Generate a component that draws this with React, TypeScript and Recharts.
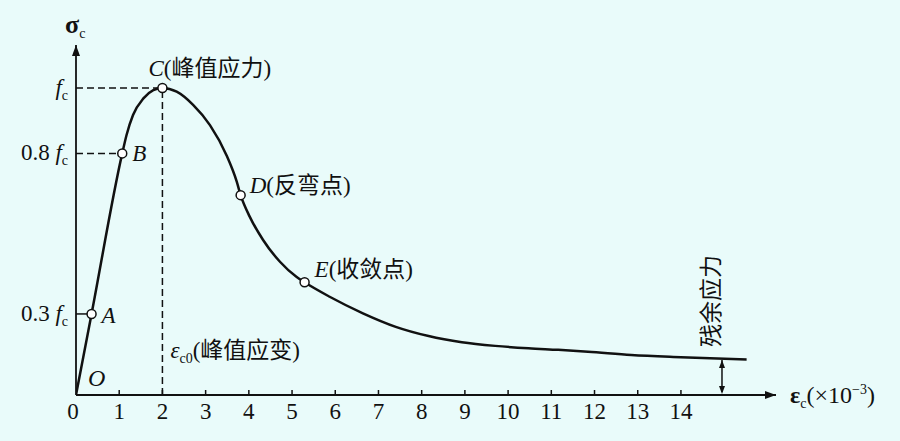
import { LineChart, Line, XAxis, YAxis, ReferenceLine, ReferenceDot } from "recharts";

// strain (×10^-3) and normalised stress σ/fc
const strain = [0, 0.36, 1.07, 1.17, 1.32, 1.56, 1.79, 2.0, 2.33, 2.71, 3.1, 3.48, 3.72, 3.81, 4.02, 4.33, 4.72, 5.1, 5.29, 5.87, 6.64, 7.4, 8.16, 8.93, 9.7, 10.47, 11.16, 11.85, 12.85, 14.0, 15.52];
const stress = [0, 0.264, 0.787, 0.847, 0.912, 0.966, 0.993, 1.0, 0.988, 0.945, 0.879, 0.782, 0.695, 0.651, 0.581, 0.505, 0.434, 0.385, 0.367, 0.32, 0.266, 0.222, 0.192, 0.172, 0.16, 0.152, 0.147, 0.141, 0.13, 0.123, 0.116];

const pointNames = ["A", "B", "C", "D", "E"];
const pointStrain = [0.36, 1.07, 2.0, 3.81, 5.29];
const pointStress = [0.264, 0.787, 1.0, 0.651, 0.367];
const pointNotes = ["", "", "(峰值应力)", "(反弯点)", "(收敛点)"];

const xTicks = [0, 1, 2, 3, 4, 5, 6, 7, 8, 9, 10, 11, 12, 13, 14];
const yTicks = [0.264, 0.787, 1];
const yTickLabels = ["0.3", "0.8", ""];

const peakStrain = 2;
const residualStrain = 14.95;
const residualStress = 0.114;
const xMax = 16.2;
const yMax = 1.14;

const curve = strain.map((x, i) => ({ x, y: stress[i] }));

const INK = "#111";
const BG = "#e9fbfa";
const FONT = '"Liberation Serif", "Times New Roman", "Noto Sans CJK SC", serif';
const FS = 23;
const SUB = 14;

// label offsets in px from each point
const noteOffset: Record<string, [number, number]> = {
  A: [10, 9],
  B: [10, 8],
  C: [-14, -12],
  D: [9, -2],
  E: [10, -5],
};

const XTick = (p: any) => {
  const { x, y, payload } = p;
  return (
    <g>
      {payload.value !== 0 && <line x1={x} y1={y} x2={x} y2={y - 5} stroke={INK} strokeWidth={1.5} />}
      <text x={payload.value === 0 ? x - 3 : x} y={y + 24} textAnchor="middle" fontFamily={FONT} fontSize={FS} fill={INK}>
        {payload.value}
      </text>
    </g>
  );
};

const YTick = (p: any) => {
  const { x, y, payload } = p;
  const k = yTickLabels[yTicks.indexOf(payload.value)];
  return (
    <text x={x - 8} y={y + 7} textAnchor="end" fontFamily={FONT} fontSize={FS} fill={INK}>
      {k ? <tspan>{k} </tspan> : null}
      <tspan fontStyle="italic">f</tspan>
      <tspan fontSize={SUB} dy={5}>c</tspan>
    </text>
  );
};

const pointShape = (name: string, note: string) => (p: any) => {
  const [dx, dy] = noteOffset[name];
  return (
    <g>
      <circle cx={p.cx} cy={p.cy} r={4.5} fill="#fff" stroke={INK} strokeWidth={1.5} />
      <text x={p.cx + dx} y={p.cy + dy} fontFamily={FONT} fontSize={FS} fill={INK}>
        <tspan fontStyle="italic">{name}</tspan>
        {note}
      </text>
    </g>
  );
};

const arrowUp = (p: any) => <polygon points={`${p.cx},${p.cy} ${p.cx - 4},${p.cy + 11} ${p.cx + 4},${p.cy + 11}`} fill={INK} />;
const arrowRight = (p: any) => <polygon points={`${p.cx},${p.cy} ${p.cx - 11},${p.cy - 4} ${p.cx - 11},${p.cy + 4}`} fill={INK} />;
const smallUp = (p: any) => <polygon points={`${p.cx},${p.cy} ${p.cx - 3},${p.cy + 8} ${p.cx + 3},${p.cy + 8}`} fill={INK} />;
const smallDown = (p: any) => <polygon points={`${p.cx},${p.cy} ${p.cx - 3},${p.cy - 8} ${p.cx + 3},${p.cy - 8}`} fill={INK} />;

const sigmaTitle = (p: any) => (
  <text x={p.cx - 11} y={p.cy - 12} fontFamily={FONT} fontSize={26} fontWeight="bold" fill={INK}>
    σ<tspan fontSize={SUB} fontWeight="normal" dy={5}>c</tspan>
  </text>
);

const epsTitle = (p: any) => (
  <text x={p.cx + 14} y={p.cy + 8} fontFamily={FONT} fontSize={24} fill={INK}>
    <tspan fontWeight="bold">ε</tspan>
    <tspan fontSize={SUB} dy={5}>c</tspan>
    <tspan dy={-5}>(×10</tspan>
    <tspan fontSize={SUB} dy={-9}>−3</tspan>
    <tspan dy={9}>)</tspan>
  </text>
);

const peakStrainNote = (p: any) => (
  <text x={p.cx + 8} y={p.cy} fontFamily={FONT} fontSize={FS} fill={INK}>
    <tspan fontStyle="italic">ε</tspan>
    <tspan fontSize={SUB} dy={5}>c0</tspan>
    <tspan dy={-5}>(峰值应变)</tspan>
  </text>
);

const originNote = (p: any) => (
  <text x={p.cx + 12} y={p.cy - 9} fontFamily={FONT} fontSize={24} fontStyle="italic" fill={INK}>
    O
  </text>
);

const residualNote = (p: any) => (
  <text
    x={p.cx - 10}
    y={p.cy}
    textAnchor="middle"
    dominantBaseline="central"
    transform={`rotate(-90 ${p.cx - 10} ${p.cy})`}
    fontFamily={FONT}
    fontSize={FS}
    fill={INK}
  >
    残余应力
  </text>
);

export default function App() {
  return (
    <div style={{ position: "absolute", left: 0, top: 0, width: 900, height: 441, background: BG }}>
      <LineChart width={900} height={441} data={curve} margin={{ top: 45, right: 124, bottom: 45, left: 75 }}>
        <XAxis
          type="number"
          dataKey="x"
          domain={[0, xMax]}
          ticks={xTicks}
          interval={0}
          height={1}
          tickSize={0}
          tickMargin={0}
          tickLine={false}
          tick={XTick}
          axisLine={{ stroke: INK, strokeWidth: 1.8 }}
          allowDataOverflow
        />
        <YAxis
          type="number"
          dataKey="y"
          domain={[0, yMax]}
          ticks={yTicks}
          interval={0}
          width={1}
          tickSize={0}
          tickMargin={0}
          tickLine={false}
          tick={YTick}
          axisLine={{ stroke: INK, strokeWidth: 1.8 }}
          allowDataOverflow
        />

        <ReferenceLine segment={[{ x: 0, y: 1 }, { x: peakStrain, y: 1 }]} stroke={INK} strokeWidth={1.5} strokeDasharray="7 4" ifOverflow="visible" />
        <ReferenceLine segment={[{ x: 0, y: pointStress[1] }, { x: pointStrain[1], y: pointStress[1] }]} stroke={INK} strokeWidth={1.5} strokeDasharray="7 4" ifOverflow="visible" />
        <ReferenceLine segment={[{ x: 0, y: pointStress[0] }, { x: pointStrain[0], y: pointStress[0] }]} stroke={INK} strokeWidth={1.5} ifOverflow="visible" />
        <ReferenceLine segment={[{ x: peakStrain, y: 0 }, { x: peakStrain, y: 1 }]} stroke={INK} strokeWidth={1.5} strokeDasharray="7 4" ifOverflow="visible" />
        <ReferenceLine segment={[{ x: residualStrain, y: 0.01 }, { x: residualStrain, y: residualStress }]} stroke={INK} strokeWidth={1.5} ifOverflow="visible" />

        <Line type="monotone" dataKey="y" stroke={INK} strokeWidth={2.5} dot={false} isAnimationActive={false} />

        {pointNames.map((n, i) => (
          <ReferenceDot key={n} x={pointStrain[i]} y={pointStress[i]} ifOverflow="visible" shape={pointShape(n, pointNotes[i])} />
        ))}

        <ReferenceDot x={0} y={yMax} ifOverflow="visible" shape={arrowUp} />
        <ReferenceDot x={xMax} y={0} ifOverflow="visible" shape={arrowRight} />
        <ReferenceDot x={residualStrain} y={residualStress} ifOverflow="visible" shape={smallUp} />
        <ReferenceDot x={residualStrain} y={0.003} ifOverflow="visible" shape={smallDown} />
        <ReferenceDot x={0} y={yMax} ifOverflow="visible" shape={sigmaTitle} />
        <ReferenceDot x={xMax} y={0} ifOverflow="visible" shape={epsTitle} />
        <ReferenceDot x={peakStrain} y={0.12} ifOverflow="visible" shape={peakStrainNote} />
        <ReferenceDot x={0} y={0} ifOverflow="visible" shape={originNote} />
        <ReferenceDot x={residualStrain} y={0.306} ifOverflow="visible" shape={residualNote} />
      </LineChart>
    </div>
  );
}
